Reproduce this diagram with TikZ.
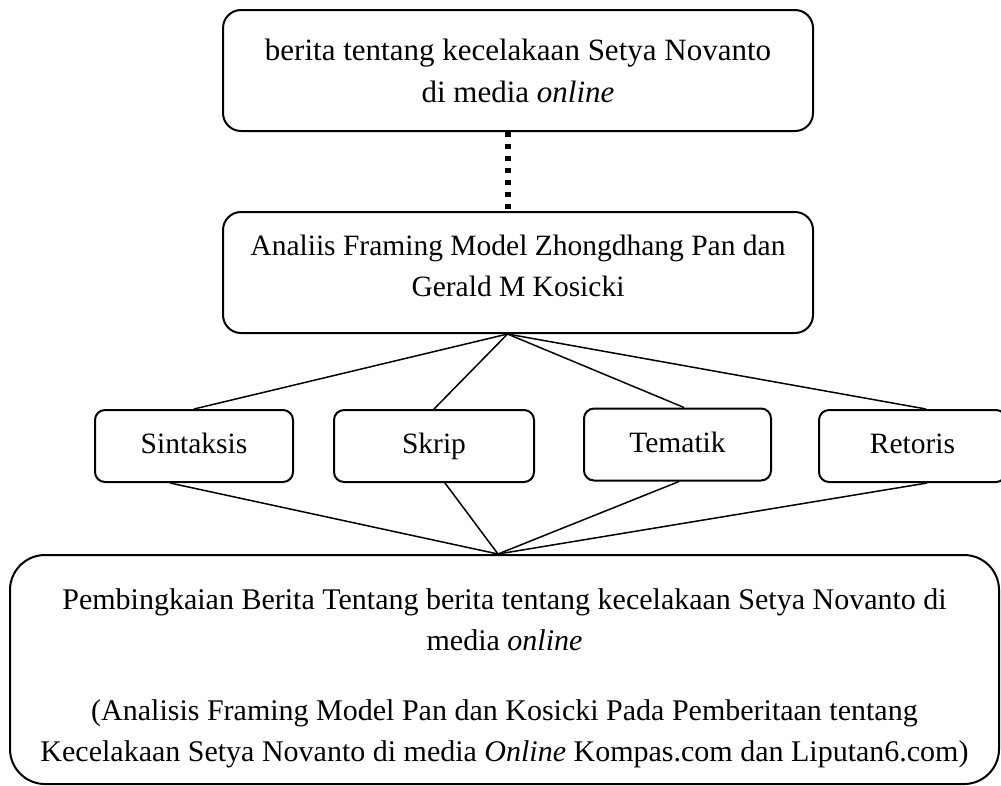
\documentclass[tikz,border=0pt]{standalone}
\usepackage{fontspec}
\setmainfont{Liberation Serif}
\usepackage{xcolor}
\usepackage{tikz}
\usetikzlibrary{calc,positioning}
\definecolor{FrameInk}{HTML}{000000}
\newcommand{\boxfont}{\fontsize{11.8}{16.4}\selectfont}

\begin{document}
\begin{tikzpicture}[
        node distance=17pt,
        bigbox/.style={draw=FrameInk, line width=0.8pt, rounded corners=7.2pt,
            minimum width=236pt, minimum height=48.4pt, align=center, font=\boxfont},
        termbox/.style={draw=FrameInk, line width=0.8pt, rounded corners=4pt,
            minimum height=28.8pt, text height=8.5pt, text depth=2.5pt, font=\boxfont},
        link/.style={draw=FrameInk, line width=0.6pt}
    ]
        \useasboundingbox (0pt,0pt) rectangle (400.4pt,-314pt);
        \node[bigbox, font=\fontsize{12.4}{16.8}\selectfont] (berita) at (207.2pt,-28.2pt)
            {berita tentang kecelakaan Setya Novanto\\di media \textit{online}};
        \node[bigbox, below=31.6pt of berita] (framing) {Analiis Framing Model Zhongdhang Pan dan\\Gerald M Kosicki\rule[-5pt]{0pt}{5pt}};
        \node[termbox, minimum width=79.2pt] (sintaksis) at (77.6pt,-178.4pt) {Sintaksis};
        \node[termbox, minimum width=80pt, right=15.6pt of sintaksis] (skrip) {Skrip};
        \node[termbox, minimum width=74.8pt, right=19.2pt of skrip, yshift=0.6pt] (tematik) {Tematik};
        \node[termbox, minimum width=74.8pt, right=18.4pt of tematik, yshift=-0.6pt] (retoris) {Retoris};
        \node[bigbox, minimum width=395.6pt, minimum height=91.6pt, rounded corners=14pt,
            font=\fontsize{12}{16.4}\selectfont] (pembingkaian) at (201.8pt,-267.8pt)
            {\rule{0pt}{15pt}Pembingkaian Berita Tentang berita tentang kecelakaan Setya Novanto di\\media \textit{online}\\[11.6pt]
            (Analisis Framing Model Pan dan Kosicki Pada Pemberitaan tentang\\Kecelakaan Setya Novanto di media \textit{Online} Kompas.com dan Liputan6.com)};

        \draw[FrameInk, line width=2.4pt, dash pattern=on 2pt off 2.8pt] ([xshift=-4.2pt]berita.south) -- ([xshift=-4.2pt]framing.north);

        \draw[link] ([xshift=-4.2pt]framing.south) -- (sintaksis.north);
        \draw[link] ([xshift=-4.2pt]framing.south) -- (skrip.north);
        \draw[link] ([xshift=-4.2pt]framing.south) -- ([xshift=2.6pt]tematik.north);
        \draw[link] ([xshift=-4.2pt]framing.south) -- ([xshift=5.4pt]retoris.north);

        \draw[link] ([xshift=-9.6pt]sintaksis.south) -- ([xshift=-2.6pt]pembingkaian.north);
        \draw[link] ([xshift=4.4pt]skrip.south) -- ([xshift=-2.6pt]pembingkaian.north);
        \draw[link] ([xshift=0.6pt]tematik.south) -- ([xshift=-2.6pt]pembingkaian.north);
        \draw[link] ([xshift=5.8pt]retoris.south) -- ([xshift=-2.6pt]pembingkaian.north);
    \end{tikzpicture}
\end{document}
